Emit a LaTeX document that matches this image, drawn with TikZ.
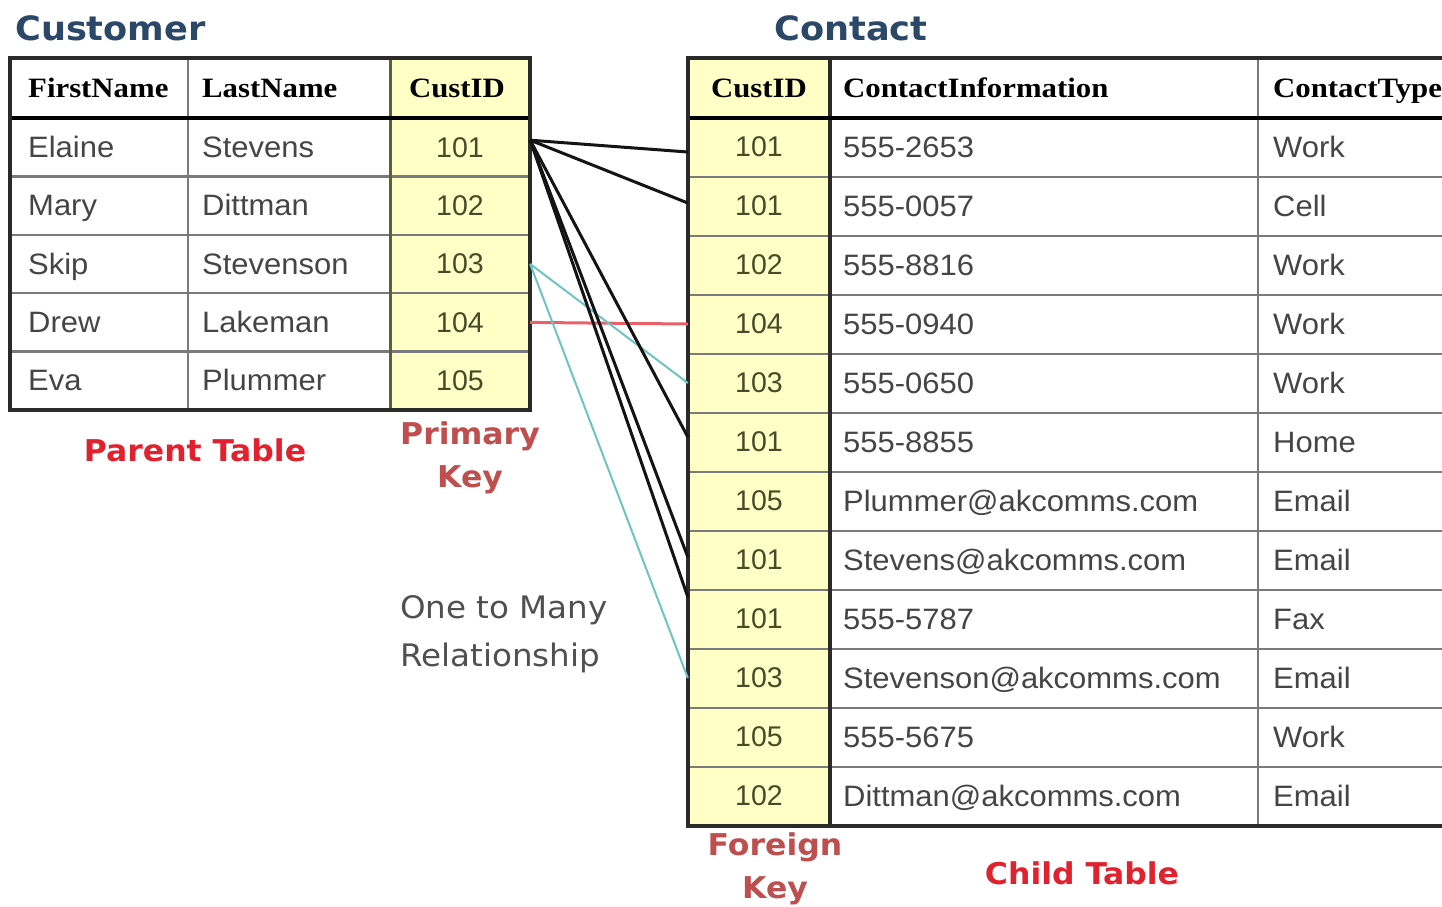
\documentclass[tikz,border=0pt]{standalone}
\usepackage{fontspec}
\setmainfont{Liberation Sans}
\newfontfamily\bodyfont{Liberation Sans}[FakeStretch=1.05]
\newfontfamily\headfont{Liberation Serif}[FakeStretch=1.1]
\newfontfamily\labelfont{DejaVu Sans}[FakeStretch=1.05]
\usetikzlibrary{calc}

\definecolor{keyfill}{HTML}{FFFFC6}
\definecolor{titleblue}{HTML}{2C4869}
\definecolor{redlbl}{HTML}{E0222E}
\definecolor{keylbl}{HTML}{BF4E4E}
\definecolor{bodytxt}{HTML}{454545}
\definecolor{keytxt}{HTML}{4A4A2A}
\definecolor{notegray}{HTML}{505050}
\definecolor{gridgray}{HTML}{7A7A7A}
\definecolor{keygrid}{HTML}{5E5E3A}
\definecolor{framedark}{HTML}{2A2A2A}
\definecolor{linkcyan}{HTML}{6EC4C4}
\definecolor{linkred}{HTML}{E8606A}

\tikzset{
  gridline/.style={draw=gridgray, line width=2.5pt},
  keyline/.style={draw=keygrid, line width=3pt},
  frameline/.style={draw=framedark, line width=3.5pt},
  headrule/.style={draw=black, line width=4.5pt},
  bodytext/.style={font=\bodyfont\fontsize{29.5}{34}\selectfont, text=bodytxt, inner sep=0pt},
  headtext/.style={font=\headfont\bfseries\fontsize{28}{34}\selectfont, text=black, inner sep=0pt},
  keycell/.style={minimum width=140pt, minimum height=58pt, inner sep=0pt,
    font=\fontsize{28.5}{34}\selectfont, text=keytxt},
  titletext/.style={font=\labelfont\bfseries\fontsize{33.5}{40}\selectfont, text=titleblue, inner sep=0pt},
  redlabel/.style={font=\labelfont\bfseries\fontsize{30}{43}\selectfont, text=redlbl, align=center, inner sep=0pt},
  keylabel/.style={redlabel, text=keylbl},
  notetext/.style={font=\labelfont\fontsize{31}{48}\selectfont, text=notegray, align=left, inner sep=0pt},
  pklink/.style={draw=black!92, line width=3pt},
  cyanlink/.style={draw=linkcyan, line width=2pt},
  redlink/.style={draw=linkred, line width=3pt}
}

\begin{document}
\begin{tikzpicture}[x=1pt, y=-1pt]
\clip (0,0) rectangle (1442,906);
\fill[white] (0,0) rectangle (1442,906);

% ---------- Customer (parent) table ----------
\fill[keyfill] (390,58) rectangle (530,410);
\foreach \i in {1,...,4}
  \draw[gridline] (10,{118+58.4*\i}) -- (530,{118+58.4*\i});
\draw[gridline] (188,58) -- (188,410);
\draw[keyline] (390,58) -- (390,410);
\draw[headrule] (10,118) -- (530,118);
\draw[frameline] (10,58) rectangle (530,410);

\node[headtext, anchor=base west] (hfirst) at (28,97) {FirstName};
\node[headtext, anchor=base west] (hlast) at (202,97) {LastName};
\node[headtext, anchor=base] (hcust) at (457,97) {CustID};

\foreach \f/\l/\k [count=\i] in {Elaine/Stevens/101, Mary/Dittman/102,
    Skip/Stevenson/103, Drew/Lakeman/104, Eva/Plummer/105} {
  \node[bodytext, anchor=base west] (fn\i) at (28,{147.2+58.4*(\i-1)+10}) {\f};
  \node[bodytext, anchor=base west] (ln\i) at (202,{147.2+58.4*(\i-1)+10}) {\l};
  \node[keycell] (cu\i) at (460,{147.2+58.4*(\i-1)}) {\k};
}

% ---------- Contact (child) table ----------
\fill[keyfill] (688,58) rectangle (830,826);
\foreach \i in {1,...,11}
  \draw[gridline] (688,{118+59*\i}) -- (1460,{118+59*\i});
\draw[gridline] (1258,58) -- (1258,826);
\draw[frameline] (830,58) -- (830,826);
\draw[headrule] (688,118) -- (1460,118);
\draw[frameline] (688,58) rectangle (1470,826);

\node[headtext, anchor=base] (hcid) at (759,97) {CustID};
\node[headtext, anchor=base west] (hinfo) at (843,97) {ContactInformation};
\node[headtext, anchor=base west] (htype) at (1273,97) {ContactType};

\foreach \k/\info/\kind [count=\i] in {101/555-2653/Work, 101/555-0057/Cell,
    102/555-8816/Work, 104/555-0940/Work, 103/555-0650/Work, 101/555-8855/Home,
    105/Plummer@akcomms.com/Email, 101/Stevens@akcomms.com/Email,
    101/555-5787/Fax, 103/Stevenson@akcomms.com/Email, 105/555-5675/Work,
    102/Dittman@akcomms.com/Email} {
  \node[keycell, minimum width=142pt] (ct\i) at (759,{147+59*(\i-1)}) {\k};
  \node[bodytext, anchor=base west] (ci\i) at (843,{147+59*(\i-1)+10}) {\info};
  \node[bodytext, anchor=base west] (cy\i) at (1273,{147+59*(\i-1)+10}) {\kind};
}

% ---------- key links ----------
\draw[redlink] (cu4.east) -- (ct4.west);
\draw[cyanlink] (cu3.east) -- (ct5.west);
\draw[cyanlink] (cu3.east) -- (ct10.west);
\draw[pklink] ([yshift=7pt]cu1.east) -- ([yshift=-5pt]ct1.west);
\draw[pklink] ([yshift=7pt]cu1.east) -- ([yshift=3pt]ct2.west);
\draw[pklink] ([yshift=7pt]cu1.east) -- ([yshift=5pt]ct6.west);
\draw[pklink] ([yshift=7pt]cu1.east) -- ([yshift=3pt]ct8.west);
\draw[pklink] ([yshift=7pt]cu1.east) -- ([yshift=22pt]ct9.west);

% ---------- titles and notes ----------
\node[titletext, anchor=base west] (custtitle) at (15,40) {Customer};
\node[titletext, anchor=base] (conttitle) at (851,40) {Contact};
\node[redlabel] (parentlbl) at (195,450) {Parent Table};
\node[keylabel] (pklbl) at (470,458) {Primary\\Key};
\node[notetext, anchor=west] (relnote) at (400,634) {One to Many\\Relationship};
\node[keylabel] (fklbl) at (775,869) {Foreign\\Key};
\node[redlabel] (childlbl) at (1082,873) {Child Table};
\end{tikzpicture}
\end{document}
